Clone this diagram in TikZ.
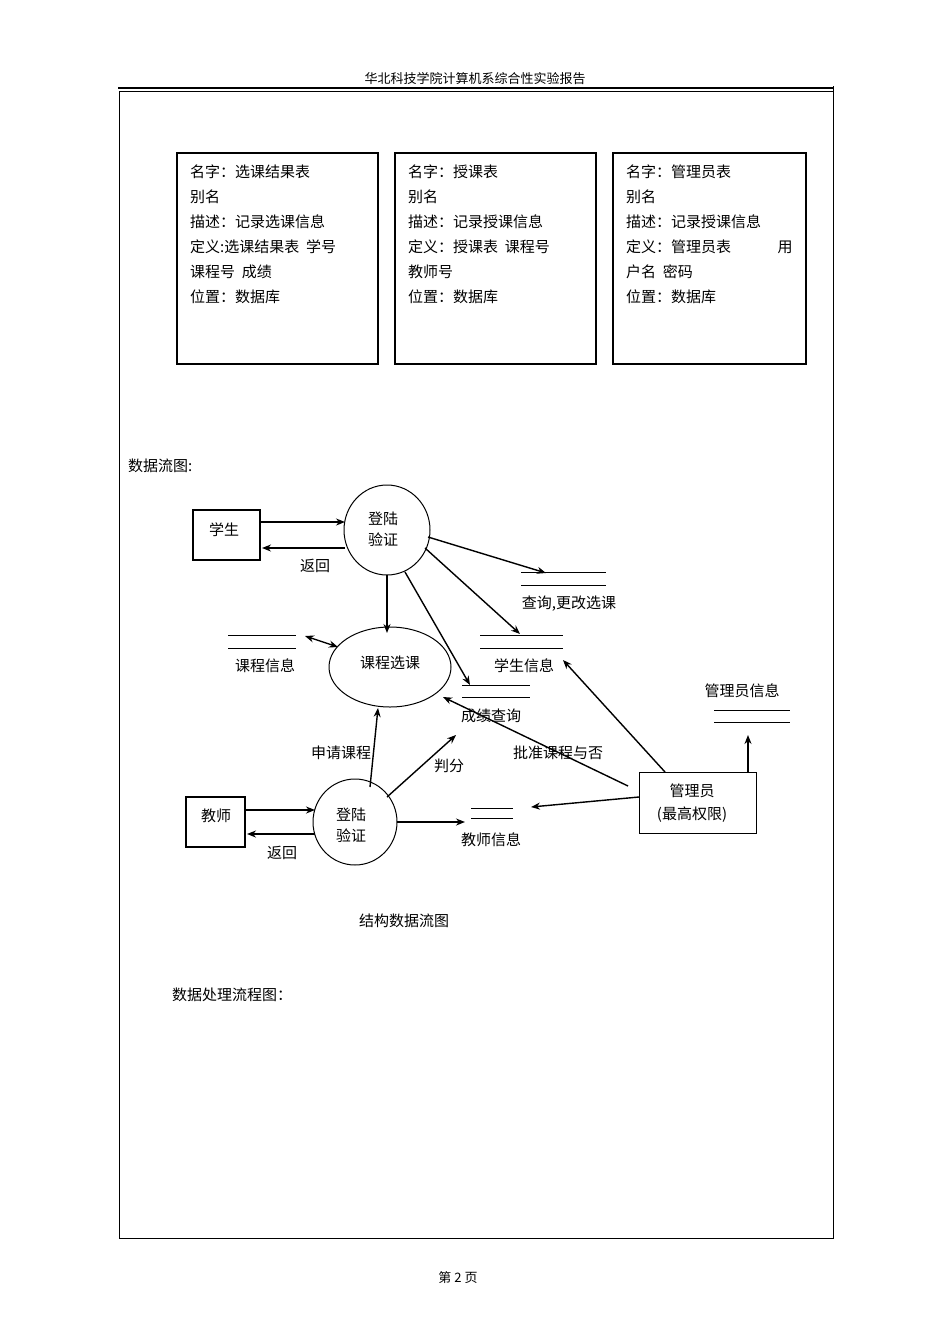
\documentclass[tikz,border=0pt]{standalone}
\usepackage{fontspec}
\usetikzlibrary{shapes.geometric,arrows.meta}
\setmainfont{Noto Sans CJK SC}
\begin{document}
\begin{tikzpicture}[x=1pt,y=-1pt,
  t/.style={inner sep=0pt,font=\fontsize{15}{18}\selectfont},
  ar/.style={-{Stealth[length=9pt,width=7pt]},line width=1.4pt},
  st/.style={line width=1pt},
  bx/.style={draw,line width=1.8pt}]
\useasboundingbox (0,0) rectangle (950,1344);
\node[t,font=\fontsize{13}{15}\selectfont] (hdr) at (475,79) {华北科技学院计算机系综合性实验报告};
\draw[line width=1.2pt] (118,88) -- (833,88);
\draw[line width=0.8pt] (119,91) rectangle (833,1238);
\draw[line width=0.8pt] (833,86) -- (833,91);
% dictionary boxes
\draw[bx] (177,153) rectangle (378,364);
\draw[bx] (395,153) rectangle (596,364);
\draw[bx] (613,153) rectangle (806,364);
\foreach \s [count=\i] in {名字：选课结果表,别名,描述：记录选课信息,定义:选课结果表\ \ 学号,课程号\ \ 成绩,位置：数据库}
  \node[t,anchor=west] (a\i) at (190,{147+25*\i}) {\s};
\foreach \s [count=\i] in {名字：授课表,别名,描述：记录授课信息,定义：授课表\ \ 课程号,教师号,位置：数据库}
  \node[t,anchor=west] (b\i) at (408,{147+25*\i}) {\s};
\foreach \s [count=\i] in {名字：管理员表,别名,描述：记录授课信息,定义：管理员表,户名\ \ 密码,位置：数据库}
  \node[t,anchor=west] (c\i) at (626,{147+25*\i}) {\s};
\node[t] (yong) at (785,247) {用};
\node[t,anchor=west] (lbl) at (128,466) {数据流图:};
% entities
\node[draw,line width=1.3pt,minimum width=67pt,minimum height=50pt] (stu) at (226.5,535) {};
\node[t] at (224,530) {学生};
\node[draw,ellipse,line width=1pt,minimum width=86pt,minimum height=90pt] (c1) at (387,530) {};
\node[t,align=center] at (383,529) {登陆\\[3pt]验证};
\draw[ar] (260,522) -- (345,522);
\draw[ar] (345,548) -- (262,548);
\node[t] (fh1) at (315,566) {返回};
% stores
\draw[st] (521,572) -- (606,572) (521,585) -- (606,585);
\coordinate (s1) at (546,573);
\node[t] (l1) at (569,604) {查询,更改选课};
\draw[st] (480,635) -- (563,635) (480,648) -- (563,648);
\coordinate (s2) at (520,634);
\node[t] (l2) at (524,666) {学生信息};
\draw[st] (462,685) -- (530,685) (462,697) -- (530,697);
\coordinate (s3) at (470,685);
\node[t] (l3) at (491,716) {成绩查询};
\draw[st] (228,635) -- (296,635) (228,648) -- (296,648);
\node[t] (l4) at (265,666) {课程信息};
\draw[st] (471,808) -- (513,808) (471,818) -- (513,818);
\node[t] (l5) at (491,840) {教师信息};
\draw[st] (714,710) -- (790,710) (714,722) -- (790,722);
\node[t] (l6) at (742,691) {管理员信息};
\draw[ar] (428,537) -- (s1);
\draw[ar] (425,548) -- (s2);
\draw[ar] (405,572) -- (s3);
\draw[ar] (387,575) -- (387,633);
\node[draw,ellipse,line width=1pt,minimum width=122pt,minimum height=80pt] (cx) at (390,667) {};
\node[t] at (390,663) {课程选课};
\draw[{Stealth[length=9pt,width=7pt]}-{Stealth[length=9pt,width=7pt]},line width=1.4pt] (305,636) -- (338,647);
% teacher
\node[draw,line width=1.3pt,minimum width=59pt,minimum height=50pt] (tea) at (215.5,822) {};
\node[t] at (216,816) {教师};
\node[draw,ellipse,line width=1pt,minimum width=84pt,minimum height=86pt] (c2) at (355,822) {};
\node[t,align=center] at (351,825) {登陆\\[3pt]验证};
\draw[ar] (245,810) -- (315,810);
\draw[ar] (315,834) -- (247,834);
\node[t] (fh2) at (282,853) {返回};
\draw[ar] (370,787) -- (378,708);
\node[t] (l7) at (341,753) {申请课程};
\draw[ar] (387,797) -- (456,735);
\node[t] (l8) at (449,766) {判分};
\draw[ar] (397,822) -- (465,822);
% admin
\node[draw,line width=1pt,minimum width=117pt,minimum height=61pt] (adm) at (697.5,802.5) {};
\node[t,align=center] at (692,803) {管理员\\[5pt](最高权限)};
\draw[ar] (665,772) -- (563,660);
\draw[ar] (628,786) -- (443,697);
\node[t] (l9) at (558,753) {批准课程与否};
\draw[ar] (639,797) -- (531,807);
\draw[ar] (748,772) -- (748,735);
\node[t] (cap) at (404,921) {结构数据流图};
\node[t] (cap2) at (232,995) {数据处理流程图：};
\node[t,font=\fontsize{13}{15}\selectfont] (pg) at (458,1278) {第 2 页};
\end{tikzpicture}
\end{document}
